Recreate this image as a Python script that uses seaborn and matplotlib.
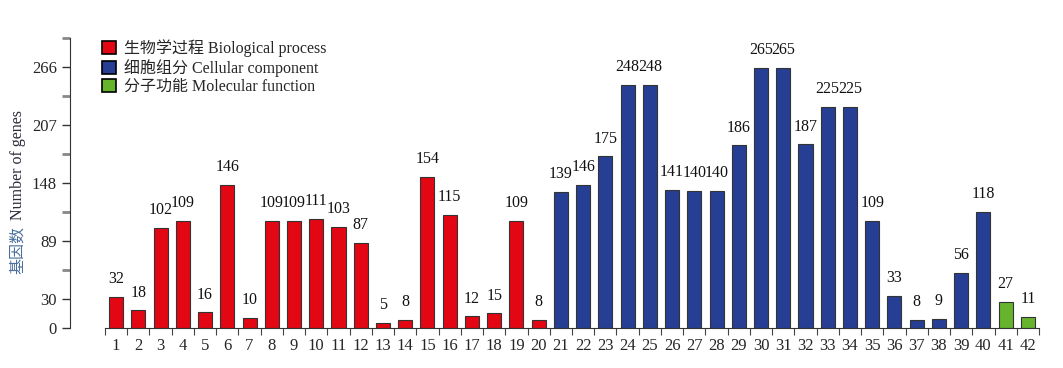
import numpy as np
import pandas as pd
import seaborn as sns
import matplotlib.pyplot as plt
from matplotlib.patches import Patch

terms = [str(i) for i in range(1, 43)]
counts = [32, 18, 102, 109, 16, 146, 10, 109, 109, 111, 103, 87, 5, 8, 154, 115, 12, 15, 109, 8,
          139, 146, 175, 248, 248, 141, 140, 140, 186, 265, 265, 187, 225, 225, 109, 33, 8, 9, 56, 118,
          27, 11]
groups = ["Biological process"] * 20 + ["Cellular component"] * 20 + ["Molecular function"] * 2
group_labels = ["生物学过程 Biological process", "细胞组分 Cellular component", "分子功能 Molecular function"]
colors = ["#e30613", "#263f94", "#66b42c"]
yticks = [0, 30, 89, 148, 207, 266]

df = pd.DataFrame({"term": terms, "count": counts, "group": groups})

sns.set_style("ticks")
fam = ["Liberation Serif", "Noto Sans CJK SC"]
plt.rcParams["font.family"] = fam

fig = plt.figure(figsize=(10.63, 3.68), dpi=100)
ax = fig.add_axes([105 / 1063, 1 - 328 / 368, 934 / 1063, 290 / 368])

sns.barplot(data=df, x="term", y="count", hue="group", order=terms,
            hue_order=["Biological process", "Cellular component", "Molecular function"],
            palette=colors, saturation=1, dodge=False, width=0.63, edgecolor="#333333",
            linewidth=0.8, legend=False, ax=ax)

for c in ax.containers:
    ax.bar_label(c, padding=7, fontsize=11.5, color="#111111")

ax.set_xlim(-0.5, 41.5)
ax.set_ylim(0, 295.5)
ax.set_yticks(yticks)
ax.set_yticks([59.5, 118.5, 177.5, 236.5, 295.5], minor=True)
ax.set_xticks(np.arange(-0.5, 42, 1), minor=True)
ax.tick_params(axis="x", which="major", length=0, labelsize=12, pad=7)
ax.tick_params(axis="x", which="minor", length=5, width=0.8, color="#444444")
ax.tick_params(axis="y", which="major", length=6, width=1, labelsize=12, color="#333333")
ax.tick_params(axis="y", which="minor", length=6, width=2, color="#888888")
ax.set_xlabel("")
ax.set_ylabel("")
for s in ["top", "right"]:
    ax.spines[s].set_visible(False)
ax.spines["left"].set_position(("outward", 25))
ax.spines["left"].set_color("#333333")
ax.spines["bottom"].set_color("#333333")

fig.text(18 / 1063, 1 - 250 / 368, "基因数", rotation=90, ha="center", va="center",
         fontsize=11.5, color="#4a6f9e", family=fam)
fig.text(18 / 1063, 1 - 165 / 368, "Number of genes", rotation=90, ha="center", va="center",
         fontsize=11.5, color="#2b2b3b", family=fam)

handles = [Patch(facecolor=c, edgecolor="black", linewidth=1.2) for c in colors]
fig.legend(handles, group_labels, loc="upper left", bbox_to_anchor=(96 / 1063, 1 - 33 / 368),
           frameon=False, fontsize=11.5, handlelength=0.85, handleheight=0.85,
           handletextpad=0.5, labelspacing=0.12, borderaxespad=0)

fig.savefig("out.png", dpi=100)
